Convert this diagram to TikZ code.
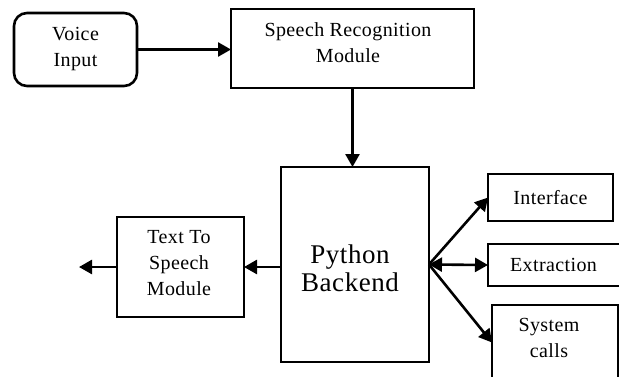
\documentclass[tikz,border=0pt]{standalone}
\usepackage{fontspec}
\setmainfont{Liberation Serif}[LetterSpace=2]
\usetikzlibrary{arrows.meta}
\begin{document}
\begin{tikzpicture}[x=1pt,y=-1pt,
  every node/.style={inner sep=0pt, outer sep=0pt},
  box/.style={draw, line width=2.6pt, rectangle},
  rbox/.style={box, rounded corners=13pt},
  lbl/.style={align=center, font=\fontsize{20}{26}\selectfont},
  biglbl/.style={align=center, font=\fontsize{27}{28}\selectfont},
  tip/.style={},
  conn/.style={line width=2.6pt, -{Triangle[length=13pt,width=14pt]}},
  biconn/.style={line width=2.6pt, {Triangle[length=13pt,width=14pt]}-{Triangle[length=13pt,width=14pt]}}]
  \useasboundingbox (0,0) rectangle (619,376);

  % boxes
  \node[rbox, minimum width=123pt, minimum height=73pt, lbl] (vi) at (75.5,49.5) {Voice\\Input};
  \node[box, minimum width=243pt, minimum height=79pt] (sr) at (352.5,48.5) {};
  \node[lbl] (srt) at (348,43) {Speech Recognition\\Module};
  \node[box, minimum width=148pt, minimum height=195pt] (py) at (355,264.5) {};
  \node[biglbl] (pyt) at (350,268) {Python\\Backend};
  \node[box, minimum width=127pt, minimum height=100pt] (tts) at (180.5,267) {};
  \node[lbl] (ttst) at (179,263) {Text To\\Speech\\Module};
  \node[box, minimum width=125pt, minimum height=47pt, lbl] (if) at (550.5,197.5) {Interface};
  \node[box, minimum width=132pt, minimum height=42pt] (ex) at (554,265) {};
  \node[lbl] (ext) at (553.5,265) {Extraction};
  \node[box, minimum width=126pt, minimum height=75pt] (sc) at (555,342.5) {};
  \node[lbl] (sct) at (549,338) {System\\calls};

  \coordinate (hub) at (py.east);
  \coordinate (out) at (79,267);

  % connectors
  \draw[conn] (vi.east) -- (sr.west |- vi.east);
  \draw[conn] (sr.south) -- (sr.south |- py.north);
  \draw[conn] (py.west |- tts.east) -- (tts.east);
  \draw[conn] (tts.west) -- (out);
  \draw[conn] (hub) -- (if.west);
  \draw[biconn] (hub) -- (ex.west);
  \draw[conn] (hub) -- (sc.west);
\end{tikzpicture}
\end{document}
